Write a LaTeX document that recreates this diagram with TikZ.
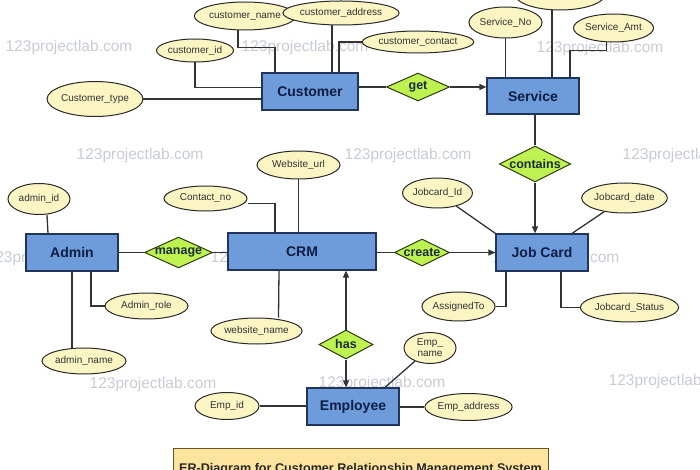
\documentclass[tikz,border=0pt]{standalone}
\usepackage{fontspec}
\setmainfont{Liberation Sans}
\usetikzlibrary{shapes.geometric,arrows.meta}
\pgfdeclarelayer{wm}
\pgfdeclarelayer{bg}
\pgfsetlayers{wm,bg,main}
\definecolor{entfill}{HTML}{6E9BD9}
\definecolor{entdraw}{HTML}{22345C}
\definecolor{enttext}{HTML}{0E1E45}
\definecolor{relfill}{HTML}{BDF250}
\definecolor{reldraw}{HTML}{2D3A12}
\definecolor{reltext}{HTML}{1B2A3A}
\definecolor{attfill}{HTML}{FAF5C3}
\definecolor{attdraw}{HTML}{2A2A2A}
\definecolor{atttext}{HTML}{333333}
\definecolor{linec}{HTML}{333333}
\definecolor{wmc}{HTML}{C9CCD6}
\definecolor{titfill}{HTML}{FDE49E}
\definecolor{titdraw}{HTML}{6B5424}
\begin{document}
\begin{tikzpicture}[x=1pt,y=-1pt,
  entity/.style={draw=entdraw,line width=1.2pt,fill=entfill,text=enttext,
    font=\bfseries\fontsize{14}{16}\selectfont,inner sep=0pt,
    minimum width=92pt,minimum height=37pt},
  rel/.style={diamond,draw=reldraw,line width=1pt,fill=relfill,text=reltext,
    font=\bfseries\fontsize{12.5}{14}\selectfont,inner sep=0pt,aspect=2.2},
  attr/.style={ellipse,draw=attdraw,line width=1pt,fill=attfill,text=atttext,
    font=\fontsize{10}{11}\selectfont,inner sep=0pt,align=center},
  conn/.style={draw=linec,line width=1.3pt},
  arr/.style={conn,-{Triangle[length=7pt,width=6pt]}},
  wmark/.style={text=wmc,font=\fontsize{15.5}{17}\selectfont,inner sep=0pt},
  titlebox/.style={draw=titdraw,line width=1pt,fill=titfill,text=black!85,
    font=\bfseries\fontsize{12.6}{14}\selectfont,minimum width=375pt,minimum height=42pt}
]
\useasboundingbox (0,0) rectangle (700,470);
\clip (0,0) rectangle (700,470);

\begin{pgfonlayer}{wm}
\fill[white] (0,0) rectangle (700,470);
\node[wmark] (wm1) at (69,47) {123projectlab.com};
\node[wmark] (wm2) at (305,47) {123projectlab.com};
\node[wmark] (wm3) at (600,48) {123projectlab.com};
\node[wmark] (wm4) at (140,155) {123projectlab.com};
\node[wmark] (wm5) at (408,155) {123projectlab.com};
\node[wmark] (wm6) at (686,155) {123projectlab.com};
\node[wmark] (wm7) at (50,258) {123projectlab.com};
\node[wmark] (wm8) at (274,258) {123projectlab.com};
\node[wmark] (wm9) at (556,258) {123projectlab.com};
\node[wmark] (wm10) at (153,384) {123projectlab.com};
\node[wmark] (wm11) at (382,383) {123projectlab.com};
\node[wmark] (wm12) at (672,381) {123projectlab.com};
\end{pgfonlayer}

% entities
\node[entity,minimum width=96pt] (cust) at (310,91.5) {Customer};
\node[entity,minimum height=36pt] (serv) at (533,96) {Service};
\node[entity] (jc) at (542,252.5) {Job Card};
\node[entity,minimum width=148pt] (crm) at (302,251.5) {CRM};
\node[entity] (admin) at (72,252.5) {Admin};
\node[entity] (emp) at (353,406.5) {Employee};

% relationships
\node[rel,minimum width=63pt,minimum height=28pt] (get) at (418,87) {get};
\node[rel,minimum width=69pt,minimum height=36pt] (contains) at (535,164) {contains};
\node[rel,minimum width=54pt,minimum height=27pt] (create) at (422,252.5) {create};
\node[rel,minimum width=63pt,minimum height=29pt] (manage) at (178.5,252.5) {manage};
\node[rel,minimum width=54pt,minimum height=29pt] (has) at (346,344.5) {has};

% attributes
\node[attr,minimum width=84pt,minimum height=28pt] (cname) at (245,16) {customer\_name};
\node[attr,minimum width=97pt,minimum height=24pt] (caddr) at (341,13) {customer\_address};
\node[attr,minimum width=84pt,minimum height=22pt] (ccont) at (418,42) {customer\_contact};
\node[attr,minimum width=63pt,minimum height=23pt] (cid) at (195,50.5) {customer\_id};
\node[attr,minimum width=84pt,minimum height=35pt] (ctype) at (95,99) {Customer\_type};
\node[attr,minimum width=65pt,minimum height=31pt] (sno) at (505.5,22.5) {Service\_No};
\node[attr,minimum width=76pt,minimum height=32pt] (sname) at (560,-6) {Service\_name};
\node[attr,minimum width=79pt,minimum height=28pt] (samt) at (613.5,28) {Service\_Amt};
\node[attr,minimum width=69pt,minimum height=30pt] (jid) at (437.5,193) {Jobcard\_Id};
\node[attr,minimum width=77pt,minimum height=30pt] (jdate) at (624.5,198) {Jobcard\_date};
\node[attr,minimum width=67pt,minimum height=29pt] (assign) at (458.5,306.5) {AssignedTo};
\node[attr,minimum width=85pt,minimum height=29pt] (jstat) at (629.5,307.5) {Jobcard\_Status};
\node[attr,minimum width=62pt,minimum height=31pt] (aid) at (39,199) {admin\_id};
\node[attr,minimum width=83pt,minimum height=26pt] (arole) at (146.5,306) {Admin\_role};
\node[attr,minimum width=84pt,minimum height=26pt] (aname) at (84,361) {admin\_name};
\node[attr,minimum width=83pt,minimum height=28pt] (wurl) at (298.5,165) {Website\_url};
\node[attr,minimum width=83pt,minimum height=25pt] (cno) at (205.5,198.5) {Contact\_no};
\node[attr,minimum width=83pt,minimum height=26pt] (wname) at (256.5,331) {website\_name};
\node[attr,minimum width=64pt,minimum height=27pt] (eid) at (227,406) {Emp\_id};
\node[attr,minimum width=52pt,minimum height=31pt] (ename) at (430,348) {Emp\_\\name};
\node[attr,minimum width=73pt,minimum height=27pt] (eaddr) at (468.5,407) {Emp\_address};

% title
\node[titlebox] (title) at (360.5,469) {ER-Diagram for Customer Relationship Management System};

\begin{pgfonlayer}{bg}
% customer
\draw[conn] ([xshift=-7pt]cname.south) -- ++(0,17) -| ([xshift=-35pt]cust.north);
\draw[conn] ([xshift=-9pt]caddr.south) -- ([xshift=22pt]cust.north);
\draw[conn] (ccont.west) -| ([xshift=29pt]cust.north);
\draw[conn] (cid.south) |- ([yshift=4pt]cust.west);
\draw[conn] (ctype) -- (ctype -| cust.west);
\draw[conn] (get) -- (get -| cust.east);
\draw[arr] (get) -- (get -| serv.west);
% service
\draw[conn] (sno) -- (sno |- serv.north);
\draw[conn] ([xshift=-8pt]sname.south) -- ([xshift=19pt]serv.north);
\draw[conn] ([xshift=-7pt]samt.south) -- ++(0,8) -| ([xshift=37pt]serv.north);
\draw[conn] (contains) -- (contains |- serv.south);
\draw[arr] (contains) -- (contains |- jc.north);
% job card
\draw[conn] (jid) -- (jc.north west);
\draw[conn] (jdate) -- ([xshift=30pt]jc.north);
\draw[conn] (create) -- (create -| crm.east);
\draw[arr] (create) -- (create -| jc.west);
\draw[conn] (assign.east) -| ([xshift=-36pt]jc.south);
\draw[conn] ([xshift=19pt]jc.south) |- (jstat.west);
% admin
\draw[conn] (manage) -- (manage -| admin.east);
\draw[conn] (manage) -- (manage -| crm.west);
\draw[conn] ([xshift=8pt]aid.south) -- ([xshift=-24pt]admin.north);
\draw[conn] ([xshift=19pt]admin.south) |- (arole.west);
\draw[conn] (admin.south) -- (admin.south |- aname.north);
% crm
\draw[conn] (wurl) -- (wurl |- crm.north);
\draw[conn] ([yshift=-5pt]cno.east) -| ([xshift=-27pt]crm.north);
\draw[conn] ([xshift=22pt]wname.north) -- ([xshift=-23pt]crm.south);
\draw[arr] (has) -- (has |- crm.south);
\draw[arr] (has) -- (has |- emp.north);
% employee
\draw[conn] (eid) -- (eid -| emp.west);
\draw[conn] (eaddr) -- (eaddr -| emp.east);
\draw[conn] (ename) -- ([xshift=32pt]emp.north);
\end{pgfonlayer}
\end{tikzpicture}
\end{document}
